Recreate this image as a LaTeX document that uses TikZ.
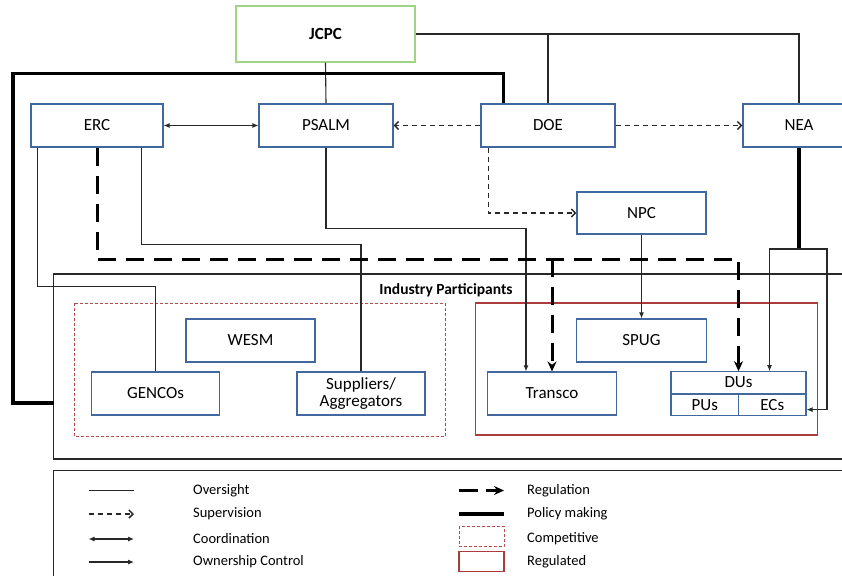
\documentclass[tikz,border=0pt]{standalone}
\usepackage{fontspec}
\setmainfont{Carlito}
\usepackage{xcolor}
\usepackage{tikz}
\usetikzlibrary{arrows.meta, positioning, calc}

\definecolor{boxblue}{RGB}{65,105,160}
\definecolor{jcpcgreen}{RGB}{160,212,130}
\definecolor{compred}{RGB}{185,75,75}
\definecolor{regred}{RGB}{170,60,60}
\definecolor{linegray}{RGB}{40,40,40}

\begin{document}
\begin{tikzpicture}[
  x=1pt, y=-1pt,
  every node/.style={font=\fontsize{17}{19}\selectfont, align=center},
  box/.style={draw=boxblue, line width=1.1pt, fill=white, inner sep=0pt,
              minimum height=43pt, minimum width=134pt},
  unit/.style={box, minimum height=21.5pt},
  lgtext/.style={font=\fontsize{14.5}{16}\selectfont, anchor=west, inner sep=0pt},
  oversight/.style={linegray, line width=1.1pt},
  owner/.style={oversight, -{Latex[length=6pt, width=5pt]}},
  coord/.style={oversight, {Latex[length=6pt, width=5pt]}-{Latex[length=6pt, width=5pt]}},
  superv/.style={linegray, line width=1.5pt, dash pattern=on 5pt off 4pt,
                 -{Straight Barb[length=4pt, width=8pt]}},
  reg/.style={black, line width=3pt, dash pattern=on 18pt off 10pt,
              -{Stealth[length=10pt, width=9pt]}},
  policy/.style={black, line width=3.5pt},
  frame/.style={linegray, line width=1.4pt},
]
  \useasboundingbox (0,0) rectangle (842,575);
  \clip (0,0) rectangle (842,575);

  % outer frames
  \draw[frame] (860,274) -- (53.5,274) -- (53.5,459) -- (860,459);
  \coordinate (indleft) at (53.5,403);
  \draw[frame] (860,470.5) -- (53.5,470.5) -- (53.5,590);
  \node[font=\fontsize{15.5}{17}\selectfont\bfseries] (indlabel) at (446,290) {Industry Participants};

  % groups
  \draw[compred, line width=1pt, dash pattern=on 3pt off 2pt] (74,303) rectangle (445.5,436);
  \draw[regred, line width=1.1pt] (475.5,303) rectangle (817.5,435);

  % agencies
  \node[box, draw=jcpcgreen, minimum width=179pt, minimum height=56pt,
        font=\fontsize{17}{19}\selectfont\bfseries] (jcpc) at (325.5,34) {JCPC};
  \node[box, minimum width=132pt] (erc)   at (97,125.5)  {ERC};
  \node[box] (psalm) at (326,125.5) {PSALM};
  \node[box] (doe)   at (548,125.5) {DOE};
  \node[box, minimum width=112pt] (nea) at (799,125.5) {NEA};
  \node[box, minimum width=129pt, minimum height=42pt] (npc) at (641.5,213) {NPC};

  % industry
  \node[box, minimum width=129pt] (wesm)  at (250.5,340.5) {WESM};
  \node[box, minimum width=130pt] (spug)  at (641.5,340.5) {SPUG};
  \node[box, minimum width=128pt] (gencos) at (155.5,393.5) {GENCOs};
  \node[box, minimum width=128pt, font=\fontsize{17}{17.5}\selectfont] (supp) at (361,393.5) {Suppliers/\\Aggregators};
  \node[box, minimum width=129pt] (transco) at (552,393.5) {Transco};
  \node[unit, minimum width=135pt] (dus) at (738.5,382.5) {DUs};
  \node[unit, minimum width=67.5pt, anchor=north west] (pus) at (dus.south west) {PUs};
  \node[unit, minimum width=67.5pt, anchor=north east] (ecs) at (dus.south east) {ECs};

  % oversight
  \draw[oversight] (jcpc.south) -- (psalm.north);
  \draw[oversight] (jcpc.east) -| (nea.north);
  \draw[oversight] (doe.north) -- (doe.north |- jcpc.east);
  \draw[oversight] ($(erc.south west)+(7,0)$) -- ++(0,138.5) -| (gencos.north);
  \draw[oversight] ($(erc.south east)+(-22,0)$) -- ++(0,97) -| (supp.north);

  % coordination and supervision
  \draw[coord] (erc) -- (psalm);
  \draw[superv] (doe) -- (psalm);
  \draw[superv] (doe) -- (nea);
  \draw[superv] ($(doe.south west)+(8,0)$) |- (npc.west);

  % ownership control
  \draw[owner] (psalm.south) -- ++(0,81) -| ($(transco.north)+(-26,0)$);
  \draw[owner] (npc.south) -- (spug.north);

  % regulation
  \coordinate (regline) at (0,259);
  \draw[reg] (erc.south) |- (dus.north |- regline) -- (dus.north);
  \draw[reg] (transco.north |- regline) -- (transco.north);

  % policy making
  \draw[policy, line join=miter] ($(doe.north west)+(23,0)$) -- ++(0,-30) -| (13,403) -- (indleft);
  \coordinate (neajoin) at (799,249);
  \draw[policy] (nea.south) -- (neajoin);
  \draw[owner] (neajoin) -| ($(dus.north)+(31,0)$);
  \draw[owner] (neajoin) -- (827,249) |- ($(ecs.east)+(0,4.5)$);

  % legend
  \node[lgtext] (lgover)  at (193,490.5) {Oversight};
  \node[lgtext] (lgsup)   at (193,514)   {Supervision};
  \node[lgtext] (lgcoord) at (193,539)   {Coordination};
  \node[lgtext] (lgown)   at (193,562)   {Ownership Control};
  \node[lgtext] (lgreg)   at (527,490.5) {Regulation};
  \node[lgtext] (lgpol)   at (527,514)   {Policy making};
  \node[lgtext] (lgcomp)  at (527,539)   {Competitive};
  \node[lgtext] (lgregd)  at (527,562)   {Regulated};

  \draw[oversight] ($(lgover.west)+(-104.5,0)$) -- ++(45.5,0);
  \draw[superv] ($(lgsup.west)+(-104.5,0)$) -- ++(45.5,0);
  \draw[coord] ($(lgcoord.west)+(-104.5,0)$) -- ++(45.5,0);
  \draw[owner] ($(lgown.west)+(-104.5,0)$) -- ++(45.5,0);
  \draw[reg, dash pattern=on 19pt off 8pt] ($(lgreg.west)+(-68,0)$) -- ++(45,0);
  \draw[policy] ($(lgpol.west)+(-68,0)$) -- ++(45,0);
  \draw[compred, line width=1pt, dash pattern=on 3pt off 2pt]
    ($(lgcomp.west)+(-68,-13)$) rectangle ++(45,20.5);
  \draw[regred, line width=1.1pt]
    ($(lgregd.west)+(-68,-10.5)$) rectangle ++(45,20);
\end{tikzpicture}
\end{document}
